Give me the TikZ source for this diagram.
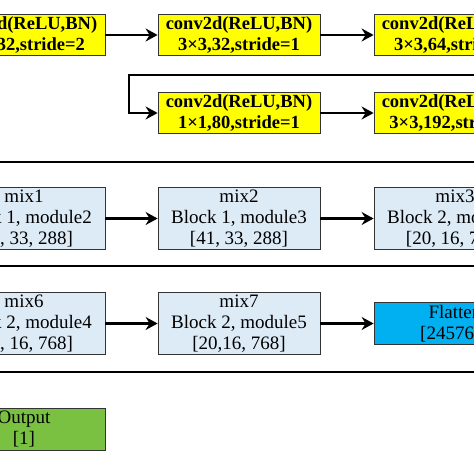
\documentclass[tikz,border=0pt]{standalone}
\usepackage{fontspec}
\setmainfont{Liberation Serif}
\definecolor{convyellow}{RGB}{255,255,0}
\definecolor{mixblue}{RGB}{221,235,247}
\definecolor{flatcyan}{RGB}{0,176,240}
\definecolor{outgreen}{RGB}{122,193,66}
\usetikzlibrary{arrows.meta, positioning}
\tikzset{
    block/.style={
           rectangle,
           draw=black!80, line width=0.8pt,
           minimum width=162pt,
           inner sep=2pt,
           align=center,
           font=\fontsize{19}{21}\selectfont,
           },
    convbox/.style={block, fill=convyellow, minimum height=40pt, font=\fontsize{18.5}{20.5}\selectfont\bfseries},
    mixbox/.style={block, fill=mixblue, minimum height=61pt},
    flatbox/.style={block, fill=flatcyan, minimum height=42pt},
    outbox/.style={block, fill=outgreen, minimum height=42pt},
}
\newcommand{\conv}[1]{conv2d(ReLU,BN)\\#1}

\begin{document}
\begin{tikzpicture}[x=1pt, y=1pt, ->, >={Stealth[length=12pt,width=13pt,inset=4pt]}, line width=2.6pt]
  \useasboundingbox (0,0) rectangle (474,474);
  \clip (0,0) rectangle (474,474);
  \node[convbox] (C1) at ( 24, 439)   {\conv{3×3,32,stride=2}};
  \node[convbox] (C2) at (239, 439)   {\conv{3×3,32,stride=1}};
  \node[convbox] (C3) at (455, 439)   {\conv{3×3,64,stride=1}};
  \node[convbox] (C4) at (239, 361)   {\conv{1×1,80,stride=1}};
  \node[convbox] (C5) at (455, 361)   {\conv{3×3,192,stride=1}};
  \node[mixbox]  (M1) at ( 24, 255.5) {mix1\\Block 1, module2\\{[41, 33, 288]}};
  \node[mixbox]  (M2) at (239, 255.5) {mix2\\Block 1, module3\\{[41, 33, 288]}};
  \node[mixbox]  (M3) at (455, 255.5) {mix3\\Block 2, module1\\{[20, 16, 768]}};
  \node[mixbox]  (M6) at ( 24, 150.5) {mix6\\Block 2, module4\\{[20, 16, 768]}};
  \node[mixbox]  (M7) at (239, 150.5) {mix7\\Block 2, module5\\{[20,16, 768]}};
  \node[flatbox] (F)  at (455, 150.5) {Flatten\\{[245760]}};
  \node[outbox]  (O)  at ( 24, 45)    {Output\\{[1]}};
  \coordinate (W1) at (490, 399);
  \coordinate (W2) at (129, 399);
  \draw (C1) -- (C2);
  \draw (C2) -- (C3);
  \draw (W1) -- (W2) |- (C4);
  \draw (C4) -- (C5);
  \draw (M1) -- (M2);
  \draw (M2) -- (M3);
  \draw (M6) -- (M7);
  \draw (M7) -- (F);
  % wrap lines between the rows
  \foreach \y in {312, 208, 102}
    \draw[-] (-10, \y) -- (490, \y);
\end{tikzpicture}
\end{document}
